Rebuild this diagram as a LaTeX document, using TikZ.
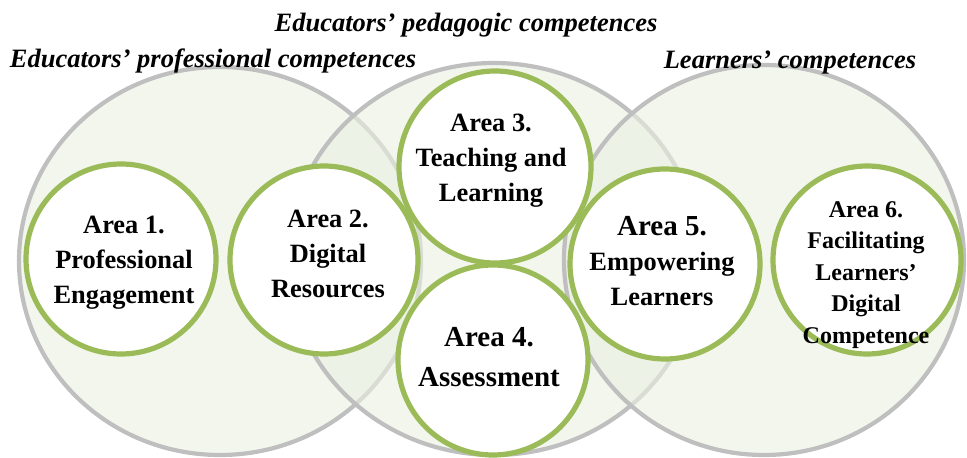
\documentclass[tikz,border=0pt]{standalone}
\usepackage{fontspec}
\setmainfont{Liberation Serif}
\usetikzlibrary{shapes.geometric}

\definecolor{areagreen}{RGB}{155,187,89}
\definecolor{groupgray}{RGB}{191,191,191}
\definecolor{groupfill}{RGB}{234,240,225}

\begin{document}
\begin{tikzpicture}[
    x=0.5pt, y=-0.5pt,
    group/.style={
      ellipse,
      draw=groupgray,
      line width=2.1pt,
      fill=groupfill,
      fill opacity=0.6,
      inner sep=0pt
    },
    area/.style={
      circle,
      draw=areagreen,
      line width=2.6pt,
      fill=white,
      minimum size=95pt,
      inner sep=0pt
    },
    area-text/.style={
      align=center,
      font=\fontsize{13.2}{17.5}\selectfont\bfseries
    },
    group-title/.style={
      anchor=base,
      font=\fontsize{13.25}{16}\selectfont\bfseries\itshape
    },
  ]
  \useasboundingbox (0,0) rectangle (967,458);

  %%%%%%%%%%%%%%%%%%%%%%%%%%%%%%%%%%%%%%%%%%%%%%
  %%%%%%%%%%%%%%%% GROUPS %%%%%%%%%%%%%%%%%%%%%%%
  %%%%%%%%%%%%%%%%%%%%%%%%%%%%%%%%%%%%%%%%%%%%%%
    \node[group, minimum width=201pt, minimum height=194pt] (professional) at (220,261) {};
    \node[group, minimum width=206pt, minimum height=196pt] (pedagogic) at (494,259) {};
    \node[group, minimum width=200pt, minimum height=195pt] (learners) at (764,260) {};

  %%%%%%%%%%%%%%%%%%%%%%%%%%%%%%%%%%%%%%%%%%%%%%
  %%%%%%%%%%%%%%%% AREAS %%%%%%%%%%%%%%%%%%%%%%%%
  %%%%%%%%%%%%%%%%%%%%%%%%%%%%%%%%%%%%%%%%%%%%%%
    \node[area] (area1) at (121,259) {};
    \node[area, minimum size=94pt] (area2) at (324,260) {};
    \node[area, minimum size=96pt] (area3) at (495,167) {};
    \node[area] (area4) at (493,360) {};
    \node[area] (area5) at (665,264) {};
    \node[area, minimum size=94pt] (area6) at (867,260) {};

    \node[area-text] (area1-text) at (124,263) {Area 1.\\Professional\\Engagement};
    \node[area-text] (area2-text) at (328,254) {Area 2.\\Digital\\Resources};
    \node[area-text] (area3-text) at (491,161) {Area 3.\\Teaching and\\Learning};
    \node[area-text, font=\fontsize{14.5}{20}\selectfont\bfseries] (area4-text) at (489,357) {Area 4.\\Assessment};
    \node[area-text] (area5-text) at (662,261) {{\fontsize{14.5}{17.5}\selectfont Area 5.}\\Empowering\\Learners};
    \node[area-text, font=\fontsize{12}{15.75}\selectfont\bfseries] (area6-text) at (866,275) {Area 6.\\Facilitating\\Learners’\\Digital\\Competence};

  %%%%%%%%%%%%%%%%%%%%%%%%%%%%%%%%%%%%%%%%%%%%%%
  %%%%%%%%%%%%%%%% TITLES %%%%%%%%%%%%%%%%%%%%%%%
  %%%%%%%%%%%%%%%%%%%%%%%%%%%%%%%%%%%%%%%%%%%%%%
    \node[group-title] (professional-title) at (213,68) {Educators’ professional competences};
    \node[group-title] (pedagogic-title) at (466,32) {Educators’ pedagogic competences};
    \node[group-title] (learners-title) at (790,69) {Learners’ competences};

  \end{tikzpicture}
\end{document}
